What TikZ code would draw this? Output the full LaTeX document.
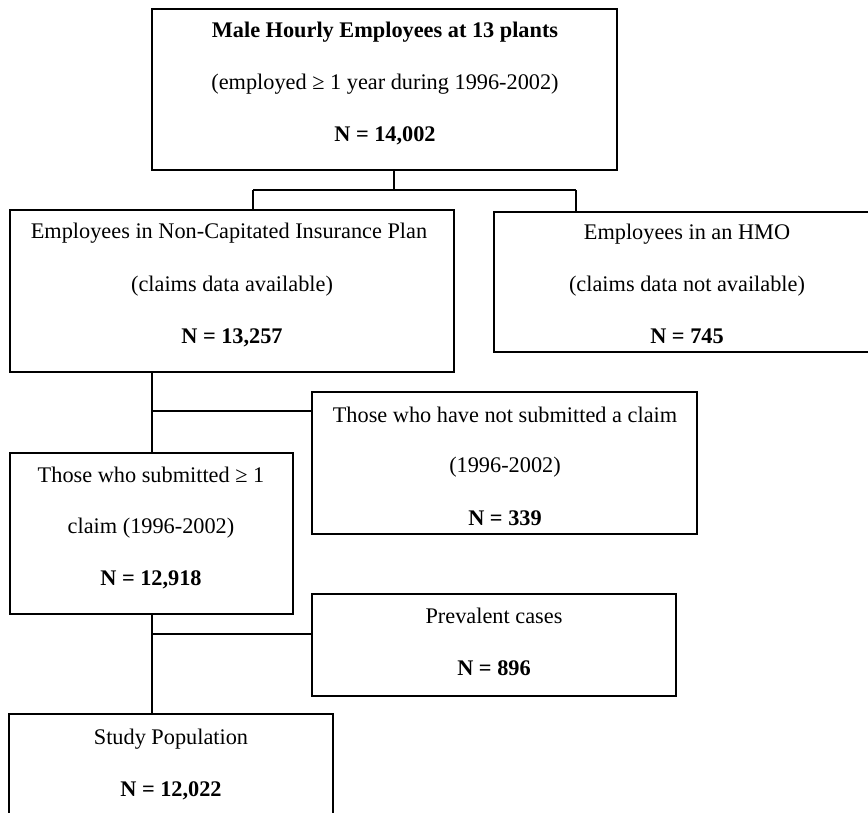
\documentclass[tikz,border=0pt]{standalone}
\usepackage{fontspec}
\setmainfont{Liberation Serif}
\usetikzlibrary{fit}
\begin{document}
\begin{tikzpicture}[x=1pt,y=-1pt,
  box/.style={draw=black, line width=1.1pt, inner sep=0pt},
  txt/.style={anchor=base, inner sep=0pt, font=\fontsize{22.3}{26}\selectfont},
  btxt/.style={txt, font=\fontsize{22.3}{26}\selectfont\bfseries},
  link/.style={draw=black, line width=1.1pt}]
\useasboundingbox (0,0) rectangle (868,813);
\clip (0,0) rectangle (868,813);
% boxes
\node[box, fit={(152,9) (617,170)}] (top) {};
\node[box, fit={(10,210) (454,372)}] (left) {};
\node[box, fit={(494,212) (880,352)}] (hmo) {};
\node[box, fit={(312,392) (697,534)}] (nots) {};
\node[box, fit={(10,453) (293,614)}] (sub) {};
\node[box, fit={(312,594) (676,696)}] (prev) {};
\node[box, fit={(9,714) (333,830)}] (study) {};
% texts
\node[btxt] (t1) at (385,38) {Male Hourly Employees at 13 plants};
\node[txt] (t2) at (385,90) {(employed ≥ 1 year during 1996-2002)};
\node[btxt] (t3) at (385,142) {N = 14,002};
\node[txt] (l1) at (229,239) {Employees in Non-Capitated Insurance Plan};
\node[txt] (l2) at (232,292) {(claims data available)};
\node[btxt] (l3) at (232,343) {N = 13,257};
\node[txt] (h1) at (687,240) {Employees in an HMO};
\node[txt] (h2) at (687,292) {(claims data not available)};
\node[btxt] (h3) at (687,343) {N = 745};
\node[txt] (n1) at (505,422) {Those who have not submitted a claim};
\node[txt] (n2) at (505,472) {(1996-2002)};
\node[btxt] (n3) at (505,525) {N = 339};
\node[txt] (s1) at (151,482) {Those who submitted ≥ 1};
\node[txt] (s2) at (151,533) {claim (1996-2002)};
\node[btxt] (s3) at (151,585) {N = 12,918};
\node[txt] (p1) at (494,623) {Prevalent cases};
\node[btxt] (p2) at (494,675) {N = 896};
\node[txt] (u1) at (171,744) {Study Population};
\node[btxt] (u2) at (171,796) {N = 12,022};
% connectors
\coordinate (j1) at (394,190);
\coordinate (jl) at (253,190);
\coordinate (jr) at (576,190);
\coordinate (b1) at (152,411);
\coordinate (b2) at (152,634);
\draw[link] (top.south -| j1) -- (j1);
\draw[link] (jl) -- (jr);
\draw[link] (jl) -- (jl |- left.north);
\draw[link] (jr) -- (jr |- hmo.north);
\draw[link] (left.south -| b1) -- (sub.north -| b1);
\draw[link] (b1) -- (nots.west |- b1);
\draw[link] (sub.south -| b2) -- (study.north -| b2);
\draw[link] (b2) -- (prev.west |- b2);
\end{tikzpicture}
\end{document}
